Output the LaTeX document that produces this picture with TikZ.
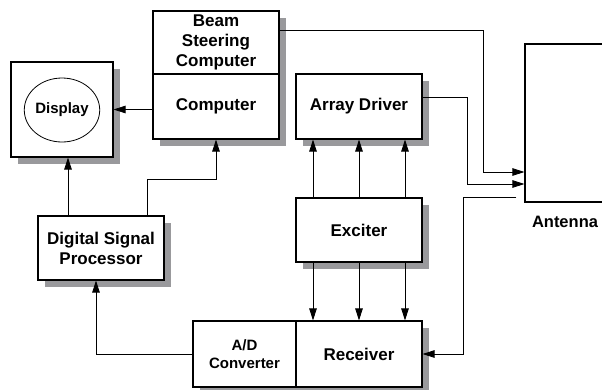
\documentclass[tikz,border=0pt]{standalone}
\usepackage{fontspec}
\setmainfont{Liberation Sans}
\usetikzlibrary{shapes.geometric,arrows.meta}
\definecolor{shadowgray}{rgb}{0.6,0.6,0.61}
\tikzset{
  blk/.style={draw=black, line width=1.1pt, fill=white, inner sep=0pt, align=center,
    font=\fontsize{17}{20}\selectfont\bfseries},
  arr/.style={draw=black, line width=0.8pt, -{Triangle[length=12pt,width=7.5pt]}},
  small/.style={font=\fontsize{15}{18}\selectfont\bfseries},
  shadowbox/.style={fill=shadowgray, draw=none}
}
\begin{document}
\begin{tikzpicture}[x=1pt,y=-1pt]
\useasboundingbox (0,0) rectangle (602,389);
% shadows
\fill[shadowbox] (18,69) rectangle (120,164);
\fill[shadowbox] (160,18) rectangle (286,146);
\fill[shadowbox] (303,81) rectangle (429,146);
\fill[shadowbox] (303,205) rectangle (429,269);
\fill[shadowbox] (45,223) rectangle (171,287);
\fill[shadowbox] (200,328) rectangle (429,394);
% nodes
\node[blk, minimum width=102pt, minimum height=95pt] (disp) at (62,109.5) {};
\node[ellipse, draw=black, line width=0.8pt, minimum width=69pt, minimum height=64pt, inner sep=0pt, small] (dcirc) at (62,110) {Display};
\node[blk, minimum width=126pt, minimum height=63pt] (bsc) at (216,42.5) {Beam\\Steering\\Computer};
\node[blk, minimum width=126pt, minimum height=65pt] (comp) at (216,106.5) {Computer};
\node[blk, minimum width=126pt, minimum height=65pt] (ad) at (359,106.5) {Array Driver};
\node[blk, minimum width=126pt, minimum height=64pt] (exc) at (359,230) {Exciter};
\node[blk, minimum width=126pt, minimum height=64pt] (dsp) at (101,248) {Digital Signal\\Processor};
\node[blk, small, minimum width=103pt, minimum height=66pt] (adc) at (244.5,354) {A/D\\Converter};
\node[blk, minimum width=126pt, minimum height=66pt] (rcv) at (359,354) {Receiver};
\node[draw=black, line width=1.1pt, minimum width=100pt, minimum height=158pt, inner sep=0pt] (ant) at (575,123) {};
\node[font=\fontsize{16.5}{20}\selectfont\bfseries, inner sep=0pt] (antlbl) at (565,222) {Antenna};
% connectors
\draw[arr] (comp.west |- disp.east) -- (disp.east);
\draw[arr] ([xshift=46pt]dsp.north) -- ++(0,-36) -| (comp.south);
\draw[arr] ([xshift=-33pt]dsp.north) -- ([xshift=6pt]disp.south);
\draw[arr] (adc.west) -| ([xshift=-5pt]dsp.south);
\foreach \dx in {-46,0,46} {
  \draw[arr] ([xshift=\dx pt]exc.north) -- ([xshift=\dx pt]ad.south);
  \draw[arr] ([xshift=\dx pt]exc.south) -- ([xshift=\dx pt]rcv.north);
}
\draw[arr] ([yshift=12.5pt]bsc.east) -| ([xshift=-41pt,yshift=-49pt]ant.west) -- ([yshift=-49pt]ant.west);
\draw[arr] ([yshift=9.5pt]ad.east) -| ([xshift=-57pt,yshift=-61pt]ant.west) -- ([yshift=-61pt]ant.west);
\draw[arr] ([xshift=-8pt,yshift=-74pt]ant.west) -- ++(-53,0) |- (rcv.east);
\end{tikzpicture}
\end{document}
